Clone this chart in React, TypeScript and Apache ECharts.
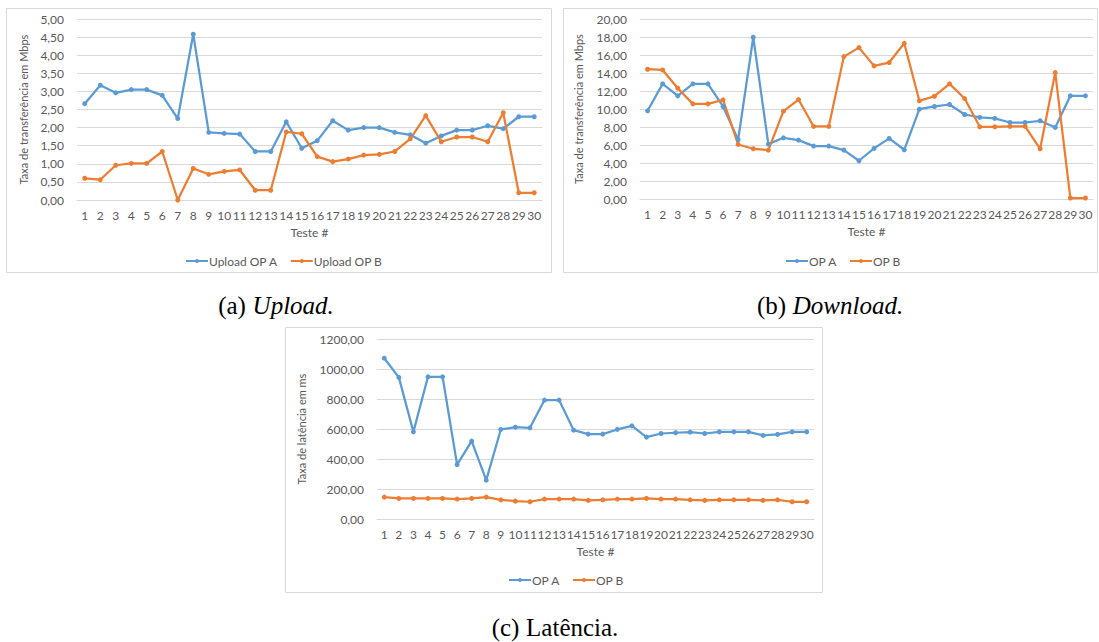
import React, { useEffect, useRef } from "react";
import * as echarts from "echarts";

const categories = Array.from({ length: 30 }, (_, i) => String(i + 1));

const uploadA = [2.66, 3.17, 2.96, 3.05, 3.05, 2.89, 2.25, 4.58, 1.87, 1.84, 1.82, 1.34, 1.34, 2.16, 1.43, 1.64, 2.19, 1.93, 2.0, 2.0, 1.87, 1.8, 1.57, 1.77, 1.93, 1.93, 2.05, 1.97, 2.3, 2.3];
const uploadB = [0.6, 0.56, 0.96, 1.01, 1.01, 1.34, 0.0, 0.87, 0.71, 0.79, 0.83, 0.27, 0.27, 1.88, 1.83, 1.2, 1.06, 1.13, 1.24, 1.26, 1.34, 1.69, 2.33, 1.61, 1.74, 1.74, 1.61, 2.41, 0.2, 0.2];

const downloadA = [9.8, 12.79, 11.46, 12.79, 12.79, 10.28, 6.58, 17.97, 6.1, 6.8, 6.54, 5.88, 5.88, 5.43, 4.25, 5.62, 6.73, 5.47, 9.98, 10.28, 10.5, 9.39, 9.06, 8.95, 8.5, 8.5, 8.69, 7.95, 11.46, 11.46];
const downloadB = [14.42, 14.34, 12.31, 10.57, 10.57, 11.02, 6.06, 5.58, 5.43, 9.76, 11.05, 8.06, 8.06, 15.82, 16.82, 14.79, 15.16, 17.3, 10.91, 11.42, 12.79, 11.16, 8.02, 8.02, 8.06, 8.06, 5.58, 14.05, 0.11, 0.11];

const latencyA = [1072, 944, 581, 948, 948, 362, 519, 259, 597, 612, 608, 793, 793, 592, 566, 566, 597, 621, 546, 570, 575, 579, 570, 581, 581, 581, 557, 564, 581, 581];
const latencyB = [146, 137, 137, 137, 137, 133, 137, 146, 128, 119, 115, 133, 133, 133, 124, 128, 133, 133, 137, 133, 133, 128, 124, 128, 128, 128, 124, 128, 115, 115];

const BLUE = "#5b9bd5";
const ORANGE = "#ed7d31";
const TXT = "#595959";
const GRID = "#d9d9d9";
const FONT = "Lato, 'Open Sans', sans-serif";

const fmt = (v: number) => v.toFixed(2).replace(".", ",");

function xAxis(gridIndex: number) {
  return {
    type: "category",
    gridIndex,
    data: categories,
    boundaryGap: true,
    name: "Teste #",
    nameLocation: "middle",
    nameGap: 26,
    nameTextStyle: { color: TXT, fontSize: 12, fontFamily: FONT },
    axisLine: { show: true, lineStyle: { color: GRID, width: 1 } },
    axisTick: { show: false },
    axisLabel: { interval: 0, color: TXT, fontSize: 12, fontFamily: FONT, margin: 9 },
  };
}

function yAxis(gridIndex: number, max: number, interval: number, name: string, nameGap: number) {
  return {
    type: "value",
    gridIndex,
    min: 0,
    max,
    interval,
    name,
    nameLocation: "middle",
    nameGap,
    nameTextStyle: { color: TXT, fontSize: 11, fontFamily: FONT },
    axisLine: { show: false },
    axisTick: { show: false },
    splitLine: { lineStyle: { color: GRID, width: 1 } },
    axisLabel: { color: TXT, fontSize: 12, fontFamily: FONT, margin: 13, formatter: fmt },
  };
}

function line(name: string, data: number[], color: string, idx: number) {
  return {
    type: "line",
    name,
    data,
    xAxisIndex: idx,
    yAxisIndex: idx,
    color,
    symbol: "circle",
    symbolSize: 5,
    lineStyle: { color, width: 2.25 },
    itemStyle: { color },
  };
}

function legend(left: number, top: number, names: string[]) {
  return {
    left,
    top,
    data: names,
    itemWidth: 22,
    itemHeight: 5,
    itemGap: 12,
    textStyle: { color: TXT, fontSize: 12, fontFamily: FONT, padding: [0, 0, 0, -4] },
    selectedMode: false,
  };
}

function caption(x: number, y: number, label: string, word: string, italic: boolean) {
  return {
    type: "text",
    x,
    y,
    style: {
      text: `{n|(${label})}  {${italic ? "i" : "n"}|${word}}`,
      textAlign: "center",
      textVerticalAlign: "middle",
      fill: "#000",
      rich: {
        n: { fontFamily: "'Liberation Serif', serif", fontSize: 25, fill: "#000" },
        i: { fontFamily: "'Liberation Serif', serif", fontSize: 25, fontStyle: "italic", fill: "#000" },
      },
    },
  };
}

function box(x: number, y: number, w: number, h: number) {
  return {
    type: "rect",
    shape: { x: x + 0.5, y: y + 0.5, width: w, height: h },
    style: { fill: "none", stroke: GRID, lineWidth: 1 },
    z: -1,
  };
}

export default function App() {
  const ref = useRef<HTMLDivElement>(null);
  useEffect(() => {
    if (!ref.current) return;
    const chart = echarts.init(ref.current, null, { renderer: "svg" });
    chart.setOption({
      animation: false,
      backgroundColor: "#fff",
      grid: [
        { left: 77, top: 19, width: 465, height: 181 },
        { left: 640, top: 19, width: 453, height: 180 },
        { left: 377, top: 339, width: 437, height: 180 },
      ],
      xAxis: [xAxis(0), xAxis(1), xAxis(2)],
      yAxis: [
        yAxis(0, 5, 0.5, "Taxa de transferência em Mbps", 48),
        yAxis(1, 20, 2, "Taxa de transferência em Mbps", 56),
        yAxis(2, 1200, 200, "Taxa de latência em ms", 70),
      ],
      legend: [
        legend(180, 250, ["Upload OP A", "Upload OP B"]),
        legend(780, 250, ["OP A", "OP B"]),
        legend(503, 569, ["OP A", "OP B"]),
      ],
      series: [
        line("Upload OP A", uploadA, BLUE, 0),
        line("Upload OP B", uploadB, ORANGE, 0),
        line("OP A", downloadA, BLUE, 1),
        line("OP B", downloadB, ORANGE, 1),
        line("OP A", latencyA, BLUE, 2),
        line("OP B", latencyB, ORANGE, 2),
      ],
      graphic: [
        box(6, 8, 545, 264),
        box(563, 8, 534, 264),
        box(285, 327, 537, 265),
        caption(276, 305, "a", "Upload.", true),
        caption(830, 305, "b", "Download.", true),
        caption(555, 627, "c", "Latência.", false),
      ],
    });
    return () => chart.dispose();
  }, []);
  return (
    <div
      ref={ref}
      style={{ position: "absolute", left: 0, top: 0, width: 1099, height: 642 }}
    />
  );
}
